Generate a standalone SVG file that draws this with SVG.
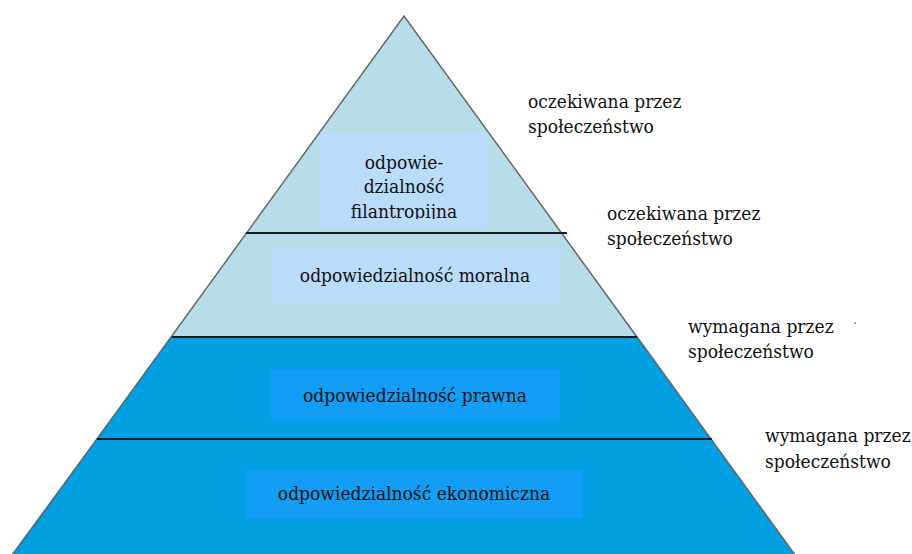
<svg xmlns="http://www.w3.org/2000/svg" width="912" height="554" viewBox="0 0 912 554">
<style>
.t{font-size:19px;fill:#111}
.c{text-anchor:middle}
.sep{stroke:#1a1a1a;stroke-width:2}
.edge{stroke:#666;stroke-width:1.5;fill:none}
</style>
<defs>
<clipPath id="clipTop"><rect x="320" y="132" width="167" height="87"/></clipPath>
</defs>
<rect width="912" height="554" fill="#fff"/>
<g id="pyramid">
<polygon points="404,16 171,337 638,337" fill="#b7dde8"/>
<polygon points="171,337 638,337 806,570 0,570" fill="#00a0e3"/>
<polyline class="edge" points="2,570 404,16 806,570"/>
</g>
<g id="connectors">
<line class="sep" x1="246" y1="233" x2="567" y2="233"/>
<line class="sep" x1="172" y1="337" x2="637" y2="337"/>
<line class="sep" x1="97" y1="439" x2="712" y2="439"/>
</g>
<g font-family="DejaVu Serif Condensed, DejaVu Serif, serif" font-stretch="condensed" class="t">
<g id="filantropijna">
<rect x="320" y="132" width="167" height="96" fill="#b9dcfa"/>
<g clip-path="url(#clipTop)">
<text class="c" x="404" y="169">odpowie-</text>
<text class="c" x="404" y="193">dzialność</text>
<text class="c" x="404" y="218">filantropijna</text>
</g>
</g>
<g id="moralna">
<rect x="271" y="250" width="289" height="52" fill="#b9dcfa"/>
<text class="c" x="415" y="282">odpowiedzialność moralna</text>
</g>
<g id="prawna">
<rect x="271" y="370" width="289" height="51" fill="#129ef5"/>
<text class="c" x="415" y="402">odpowiedzialność prawna</text>
</g>
<g id="ekonomiczna">
<rect x="246" y="470" width="337" height="48" fill="#129ef5"/>
<text class="c" x="414" y="500">odpowiedzialność ekonomiczna</text>
</g>
<g id="label1">
<text x="528" y="108">oczekiwana przez</text>
<text x="528" y="133">społeczeństwo</text>
</g>
<g id="label2">
<text x="607" y="220">oczekiwana przez</text>
<text x="607" y="245">społeczeństwo</text>
</g>
<g id="label3">
<text x="688" y="333">wymagana przez</text>
<text x="688" y="358">społeczeństwo</text>
</g>
<g id="label4">
<text x="765" y="442">wymagana przez</text>
<text x="765" y="468">społeczeństwo</text>
</g>
</g>
<circle cx="855" cy="323" r="0.9" fill="#777"/>
</svg>
